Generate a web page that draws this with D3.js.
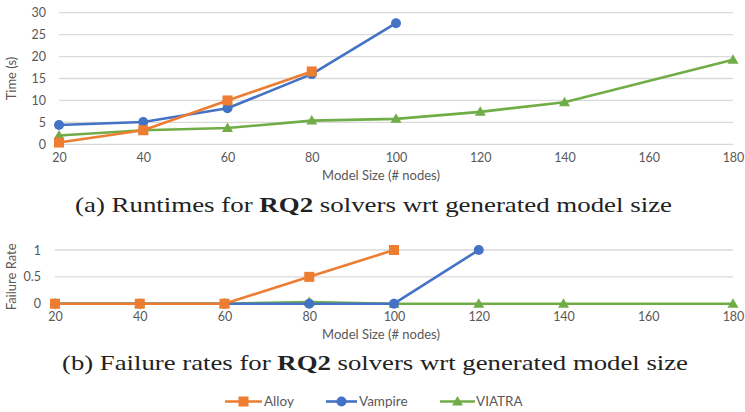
<!DOCTYPE html>
<html><head><meta charset="utf-8">
<script src="https://cdn.jsdelivr.net/npm/d3@7"></script>
<style>body{margin:0;background:#fff}svg{display:block}</style>
</head><body>
<svg id="c" width="745" height="412"></svg>
<script>
const sizes = [20, 40, 60, 80, 100, 120, 140, 160, 180];
// Runtimes (s); null = no value
const alloyTime   = [0.4, 3.2, 10.0, 16.6, null, null, null, null, null];
const vampireTime = [4.4, 5.1, 8.2, 16.0, 27.6, null, null, null, null];
const viatraTime  = [2.0, 3.2, 3.7, 5.4, 5.8, 7.4, 9.6, null, 19.3];
// Failure rates
const alloyFail   = [0, 0, 0, 0.5, 1, null, null, null, null];
const vampireFail = [0, 0, 0, 0, 0, 1, null, null, null];
const viatraFail  = [0, 0, 0, 0.03, 0, 0, 0, null, 0];
const timeTicks = [0, 5, 10, 15, 20, 25, 30];
const failTicks = [0, 0.5, 1];
const xTicks = sizes;
const seriesNames = ["Alloy", "Vampire", "VIATRA"];
const colors = {Alloy: "#ED7D31", Vampire: "#4472C4", VIATRA: "#70AD47"};

const svg = d3.select("#c");
const font = "Lato, 'Open Sans', sans-serif";
const textCol = "#595959";

function marker(g, name, x, y) {
  const c = colors[name];
  if (name === "Alloy") {
    g.append("rect").attr("x", x - 5).attr("y", y - 5).attr("width", 10).attr("height", 10).attr("fill", c);
  } else if (name === "Vampire") {
    g.append("circle").attr("cx", x).attr("cy", y).attr("r", 5).attr("fill", c);
  } else {
    g.append("path").attr("d", `M${x},${y - 5.5}L${x + 5.5},${y + 4}L${x - 5.5},${y + 4}Z`).attr("fill", c);
  }
}

function chart(opts) {
  const {x0, x1, yTop, yBot, yDomain, yTicks, yFmt, series, yLabel, tickY, titleY, yLabelX, tickX} = opts;
  const x = d3.scaleLinear().domain([20, 180]).range([x0, x1]);
  const y = d3.scaleLinear().domain(yDomain).range([yBot, yTop]);
  const g = svg.append("g");
  g.selectAll("line.grid").data(yTicks).join("line")
    .attr("x1", x0).attr("x2", x1)
    .attr("y1", d => y(d)).attr("y2", d => y(d))
    .attr("stroke", "#D9D9D9").attr("stroke-width", 1.3);
  const yAxis = d3.axisLeft(y).tickValues(yTicks).tickFormat(yFmt).tickSize(0).tickPadding(0);
  const ya = g.append("g").attr("transform", `translate(${tickX},0)`).call(yAxis);
  ya.select(".domain").remove();
  ya.selectAll("text").attr("font-family", font).attr("font-size", 12.5).attr("fill", textCol);
  const xAxis = d3.axisBottom(x).tickValues(xTicks).tickFormat(d3.format("d")).tickSize(0).tickPadding(0);
  const xa = g.append("g").attr("transform", `translate(0,${tickY})`).call(xAxis);
  xa.select(".domain").remove();
  xa.selectAll("text").attr("font-family", font).attr("font-size", 12.5).attr("fill", textCol);
  g.append("text").attr("x", 381).attr("y", titleY).attr("text-anchor", "middle")
    .attr("font-family", font).attr("font-size", 13).attr("fill", textCol).text("Model Size (# nodes)");
  g.append("text").attr("transform", `translate(${yLabelX},${(yTop + yBot) / 2}) rotate(-90)`)
    .attr("text-anchor", "middle").attr("font-family", font).attr("font-size", 13).attr("fill", textCol).text(yLabel);
  const line = d3.line().x(d => x(d.x)).y(d => y(d.y));
  ["VIATRA", "Vampire", "Alloy"].forEach(name => {
    const pts = sizes.map((s, i) => ({x: s, y: series[name][i]})).filter(d => d.y !== null);
    const sg = g.append("g");
    sg.append("path").attr("d", line(pts)).attr("fill", "none")
      .attr("stroke", colors[name]).attr("stroke-width", 2.6).attr("stroke-linejoin", "round");
    pts.forEach(p => marker(sg, name, x(p.x), y(p.y)));
  });
}

chart({x0: 59, x1: 733, yTop: 12.7, yBot: 144.3, yDomain: [0, 30], yTicks: timeTicks,
  yFmt: d3.format("d"), tickY: 153, titleY: 180, yLabelX: 16, tickX: 46,
  yLabel: "Time (s)",
  series: {Alloy: alloyTime, Vampire: vampireTime, VIATRA: viatraTime}});

chart({x0: 55, x1: 733, yTop: 250, yBot: 303.7, yDomain: [0, 1], yTicks: failTicks,
  yFmt: d => d === 0.5 ? "0.5" : d3.format("d")(d), tickY: 312, titleY: 339, yLabelX: 16, tickX: 41,
  yLabel: "Failure Rate",
  series: {Alloy: alloyFail, Vampire: vampireFail, VIATRA: viatraFail}});

function caption(yb, x0, x1, pre, post) {
  const t = svg.append("text").attr("x", x0).attr("y", yb)
    .attr("font-family", "'Liberation Serif', 'DejaVu Serif', serif").attr("font-size", 22).attr("fill", "#222")
    .attr("textLength", x1 - x0).attr("lengthAdjust", "spacingAndGlyphs");
  t.append("tspan").text(pre);
  t.append("tspan").attr("font-weight", "bold").text("RQ2");
  t.append("tspan").text(post);
}
caption(212, 75, 672, "(a) Runtimes for ", " solvers wrt generated model size");
caption(370, 62, 688, "(b) Failure rates for ", " solvers wrt generated model size");

const legY = 401.5;
const legItems = [
  {name: "Alloy", lx0: 225, lx1: 262, tx: 264},
  {name: "Vampire", lx0: 326, lx1: 357, tx: 359},
  {name: "VIATRA", lx0: 440, lx1: 475, tx: 476}
];
const lg = svg.append("g");
legItems.forEach(it => {
  lg.append("line").attr("x1", it.lx0).attr("x2", it.lx1).attr("y1", legY).attr("y2", legY)
    .attr("stroke", colors[it.name]).attr("stroke-width", 2.6);
  marker(lg, it.name, (it.lx0 + it.lx1) / 2, legY);
  lg.append("text").attr("x", it.tx).attr("y", legY + 4.8).attr("font-family", font)
    .attr("font-size", 13.5).attr("fill", textCol).text(it.name);
});
</script>
</body></html>
